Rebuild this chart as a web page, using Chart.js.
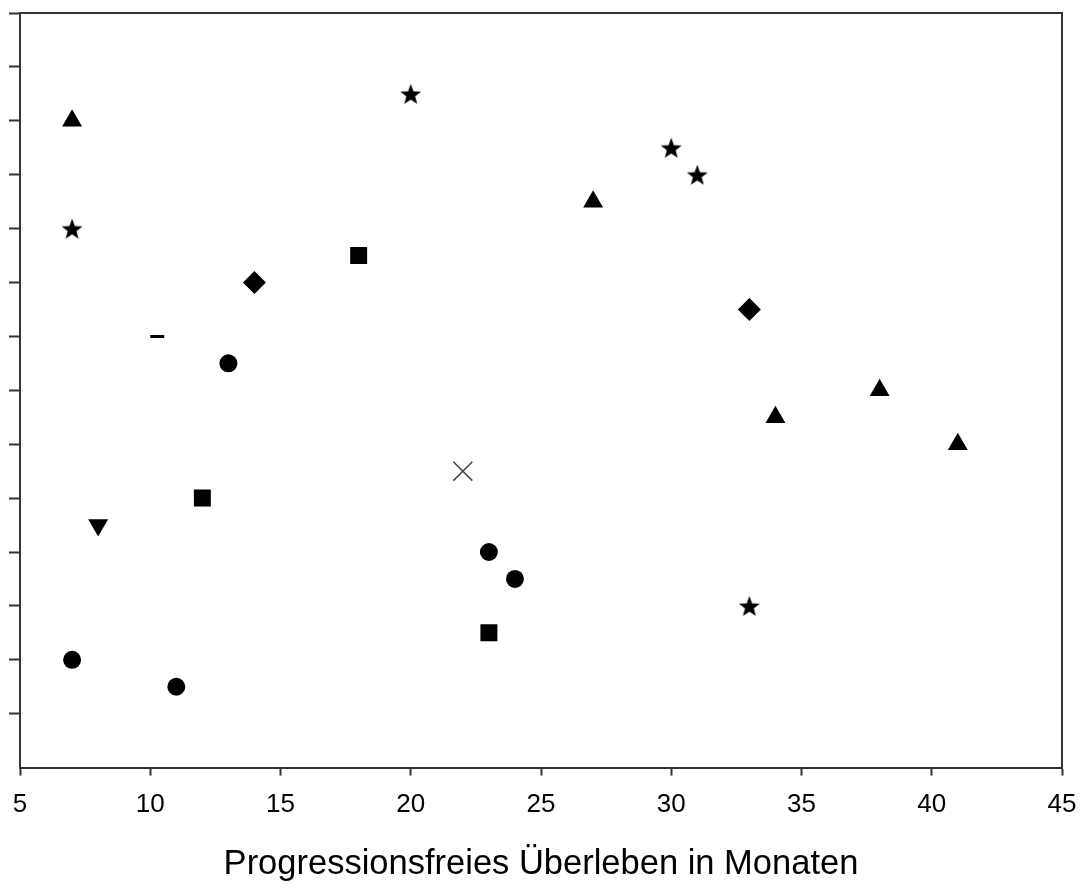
<!DOCTYPE html>
<html lang="de">
<head>
<meta charset="utf-8">
<title>Progressionsfreies Überleben</title>
<script src="https://cdn.jsdelivr.net/npm/chart.js@4/dist/chart.umd.min.js"></script>
<style>
  html, body { margin: 0; padding: 0; background: #fff; }
  #wrap { width: 1081px; height: 888px; }
</style>
</head>
<body>
<div id="wrap"><canvas id="chart"></canvas></div>
<script>
const AXIS = "#333333";
const INK = "#000000";
const FONT = "'Liberation Sans', Arial, sans-serif";

// one group per marker shape: months (x) and score (y)
const circleX = [7, 11, 13, 23, 24];
const circleY = [2, 1.5, 7.5, 4, 3.5];
const triangleX = [7, 27, 34, 38, 41];
const triangleY = [12, 10.5, 6.5, 7, 6];
const starX = [7, 20, 30, 31, 33];
const starY = [10, 12.5, 11.5, 11, 3];
const squareX = [12, 18, 23];
const squareY = [5, 9.5, 2.5];
const diamondX = [14, 33];
const diamondY = [9, 8.5];
const dashX = [10];
const dashY = [8];
const downX = [8];
const downY = [4.5];
const crossX = [22];
const crossY = [5.5];

const xRange = [5, 45];
const xStep = 5;
const yRange = [0, 14];
const yStep = 1;
const xTitle = "Progressionsfreies Überleben in Monaten";

const pts = (xs, ys) => xs.map((x, i) => ({ x, y: ys[i] }));

// filled five-point star, Chart.js has only the line-drawn one
function starImage(outer, inner) {
  const c = document.createElement("canvas");
  const s = Math.ceil(outer * 2) + 4;
  c.width = c.height = s;
  const g = c.getContext("2d");
  g.translate(s / 2, s / 2 + outer * 0.1);
  g.beginPath();
  for (let i = 0; i < 10; i++) {
    const r = i % 2 ? inner : outer;
    const a = -Math.PI / 2 + (i * Math.PI) / 5;
    g.lineTo(Math.cos(a) * r, Math.sin(a) * r);
  }
  g.closePath();
  g.fillStyle = INK;
  g.fill();
  return c;
}

function series(data, style, radius, extra) {
  return {
    data,
    pointStyle: style,
    pointRadius: radius,
    pointHoverRadius: radius,
    pointBackgroundColor: INK,
    pointBorderColor: INK,
    pointBorderWidth: 0,
    ...extra,
  };
}

// top and right edges of the box
const frame = {
  id: "frame",
  beforeDatasetsDraw(chart) {
    const { ctx, chartArea: a } = chart;
    ctx.save();
    ctx.strokeStyle = AXIS;
    ctx.lineWidth = 2;
    ctx.beginPath();
    ctx.moveTo(a.left, a.top);
    ctx.lineTo(a.right, a.top);
    ctx.lineTo(a.right, a.bottom);
    ctx.stroke();
    ctx.restore();
  },
};

new Chart(document.getElementById("chart"), {
  type: "scatter",
  data: {
    datasets: [
      series(pts(circleX, circleY), "circle", 9),
      series(pts(triangleX, triangleY), "triangle", 11.5),
      series(pts(starX, starY), starImage(11, 4.6), 10),
      series(pts(squareX, squareY), "rect", 12),
      series(pts(diamondX, diamondY), "rectRot", 11.5),
      series(pts(dashX, dashY), "dash", 14, { pointBorderWidth: 3 }),
      series(pts(downX, downY), "triangle", 11.5, { pointRotation: 180 }),
      series(pts(crossX, crossY), "crossRot", 13.4, {
        pointBorderColor: "#444444",
        pointBorderWidth: 1.5,
      }),
    ],
  },
  options: {
    responsive: true,
    maintainAspectRatio: false,
    animation: false,
    events: [],
    layout: {
      autoPadding: false,
      padding: { left: 9, top: 13, right: 19, bottom: 3 },
    },
    plugins: {
      legend: { display: false },
      tooltip: { enabled: false },
    },
    scales: {
      x: {
        type: "linear",
        min: xRange[0],
        max: xRange[1],
        ticks: {
          stepSize: xStep,
          color: INK,
          maxRotation: 0,
          // small padding keeps the right edge free, tall line box drops the labels
          padding: 3,
          font: { family: FONT, size: 26, lineHeight: 2 },
        },
        grid: {
          drawOnChartArea: false,
          tickLength: 8,
          tickWidth: 2,
          tickColor: AXIS,
        },
        border: { color: AXIS, width: 2 },
        title: {
          display: true,
          text: xTitle,
          color: INK,
          font: { family: FONT, size: 34.5 },
          padding: { top: 10, bottom: 0 },
        },
      },
      y: {
        min: yRange[0],
        max: yRange[1],
        ticks: { stepSize: yStep, display: false },
        grid: {
          drawOnChartArea: false,
          tickLength: 11,
          tickWidth: 2,
          tickColor: (c) => (c.tick && c.tick.value === 0 ? "rgba(0,0,0,0)" : AXIS),
        },
        border: { color: AXIS, width: 2 },
      },
    },
  },
  plugins: [frame],
});
</script>
</body>
</html>
